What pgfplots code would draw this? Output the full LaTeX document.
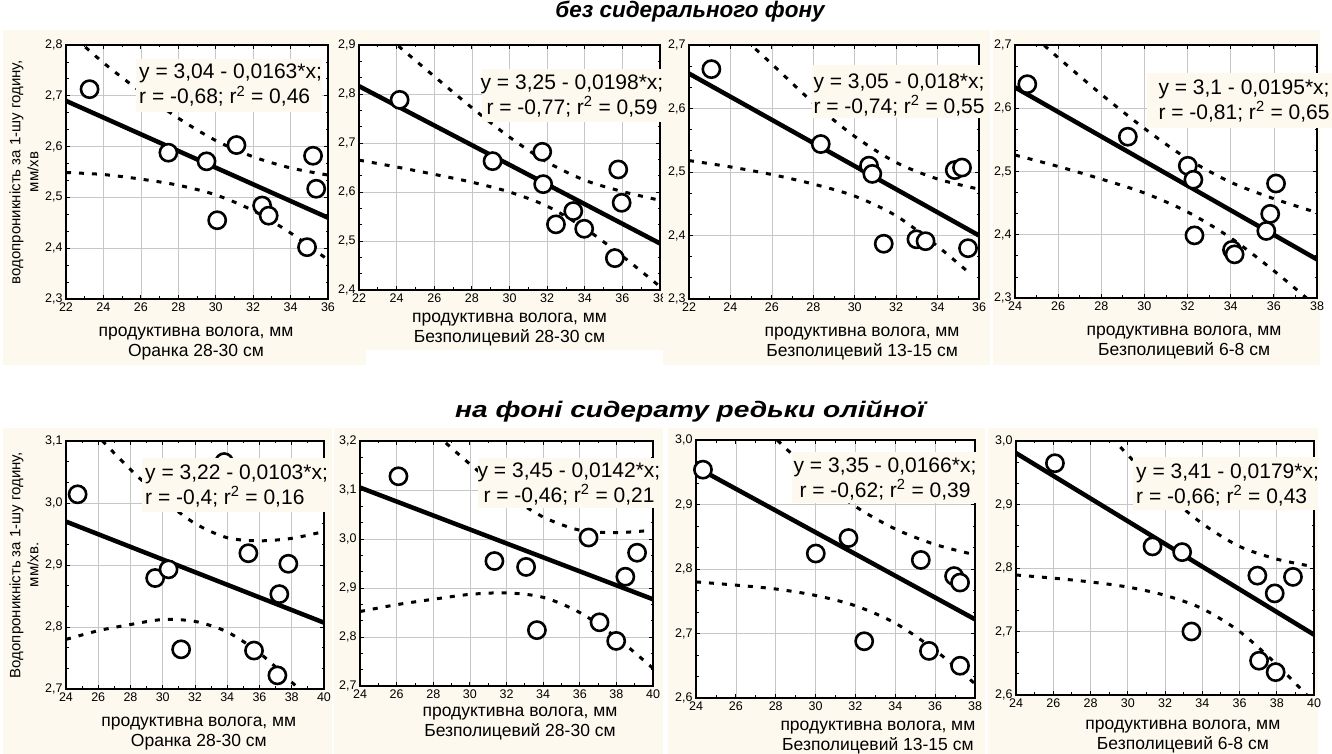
\documentclass[border=0pt]{standalone}
\usepackage{fontspec}
\setmainfont{Liberation Sans}
\usepackage{pgfplots}
\pgfplotsset{compat=1.18}
\definecolor{cream}{RGB}{253,249,238}
\pgfplotsset{
  panel/.style={
    scale only axis, anchor=south west,
    axis background/.style={fill=white},
    axis line style={line width=1.2pt},
    grid=major, major grid style={line width=0.6pt, color=black!22},
    tick align=inside, tick pos=both,
    major tick length=4pt, minor tick length=2.5pt,
    tick style={black, line width=0.8pt},
    minor x tick num=1, minor y tick num=2,
    ticklabel style={font=\fontsize{12.5}{14}\selectfont},
    /pgf/number format/assume math mode=true,
    yticklabel style={/pgf/number format/.cd, fixed, fixed zerofill, precision=1, use comma},
    xticklabel style={/pgf/number format/.cd, fixed, precision=0},
    xlabel style={font=\fontsize{17.5}{20}\selectfont, align=center, anchor=center},
    ylabel style={font=\fontsize{15}{18}\selectfont, align=center, anchor=center},
  },
  reg/.style={black, line width=4.5pt, no marks},
  band/.style={black, line width=3pt, dash pattern=on 5pt off 8pt, smooth, no marks},
  pts/.style={only marks, mark=*, mark size=8.6pt, mark options={fill=white, draw=black, line width=2.6pt}},
}
\begin{document}
\begin{tikzpicture}
\useasboundingbox (0,0) rectangle (1332pt,754pt);
% ---------- Panel 1 ----------
\begin{scope}[x=1pt,y=1pt]\fill[cream] (3,389) rectangle (336,724);\end{scope}
\begin{axis}[panel, at={(66pt,455pt)}, width=262pt, height=254pt,
  xmin=22, xmax=36, ymin=2.3, ymax=2.8,
  xtick={22,24,...,36}, ytick={2.3,2.4,2.5,2.6,2.7,2.8},
  xlabel={продуктивна волога, мм\\Оранка 28-30 см},
  xlabel style={at={(axis description cs:0.496,-0.175)}},
  ylabel={водопроникність за 1-шу годину,\\мм/хв},
  ylabel style={at={(axis description cs:-0.16,0.5)}}]
\addplot[reg] coordinates {(22,2.69)(36,2.46)};
\addplot[band] coordinates {(22,2.830)(24,2.765)(26,2.708)(28,2.656)(30,2.612)(32,2.580)(34,2.558)(36,2.544)};
\addplot[band] coordinates {(22,2.549)(24,2.545)(26,2.536)(28,2.524)(30,2.505)(32,2.474)(34,2.430)(36,2.377)};
\addplot[pts] coordinates {(23.26,2.713)(27.47,2.588)(29.51,2.571)(31.11,2.603)(30.08,2.455)(32.48,2.484)(32.83,2.464)(35.20,2.582)(35.37,2.517)(34.88,2.402)};
\end{axis}
% ---------- Panel 2 ----------
\begin{scope}[x=1pt,y=1pt]\fill[cream] (336,404) rectangle (663,724);\fill[cream] (336,389) rectangle (366,404);\end{scope}
\begin{axis}[panel, at={(359pt,464pt)}, width=301pt, height=245pt,
  xmin=22, xmax=38, ymin=2.4, ymax=2.9,
  xtick={22,24,...,38}, ytick={2.4,2.5,2.6,2.7,2.8,2.9},
  xlabel={продуктивна волога, мм\\Безполицевий 28-30 см},
  xlabel style={at={(axis description cs:0.5,-0.163)}}]
\addplot[reg] coordinates {(22,2.816)(38,2.495)};
\addplot[band] coordinates {(22,2.967)(24,2.901)(26,2.836)(28,2.772)(30,2.712)(32,2.661)(34,2.624)(36,2.601)(38,2.583)};
\addplot[band] coordinates {(22,2.665)(24,2.651)(26,2.636)(28,2.620)(30,2.600)(32,2.571)(34,2.526)(36,2.469)(38,2.407)};
\addplot[pts] coordinates {(24.16,2.788)(29.10,2.663)(31.74,2.682)(31.79,2.616)(32.47,2.534)(33.39,2.561)(33.97,2.525)(35.60,2.465)(35.78,2.646)(35.96,2.578)};
\end{axis}
% ---------- Panel 3 ----------
\begin{scope}[x=1pt,y=1pt]\fill[cream] (663,389) rectangle (990,724);\end{scope}
\begin{axis}[panel, at={(689pt,455pt)}, width=290pt, height=254pt,
  xmin=22, xmax=36, ymin=2.3, ymax=2.7,
  xtick={22,24,...,36}, ytick={2.3,2.4,2.5,2.6,2.7},
  xlabel={продуктивна волога, мм\\Безполицевий 13-15 см},
  xlabel style={at={(axis description cs:0.597,-0.177)}}]
\addplot[reg] coordinates {(22,2.655)(36,2.400)};
\addplot[band] coordinates {(22,2.792)(24,2.730)(26,2.670)(28,2.609)(30,2.556)(32,2.515)(34,2.489)(36,2.473)};
\addplot[band] coordinates {(22,2.518)(24,2.508)(26,2.496)(28,2.481)(30,2.462)(32,2.431)(34,2.383)(35.6,2.339)};
\addplot[pts] coordinates {(23.08,2.662)(28.36,2.544)(30.69,2.510)(30.85,2.497)(31.40,2.387)(32.98,2.394)(33.42,2.391)(34.83,2.503)(35.18,2.507)(35.47,2.380)};
\end{axis}
% ---------- Panel 4 ----------
\begin{scope}[x=1pt,y=1pt]\fill[cream] (993,389) rectangle (1320,724);\end{scope}
\begin{axis}[panel, at={(1015pt,456pt)}, width=302pt, height=253pt,
  xmin=24, xmax=38, ymin=2.3, ymax=2.7,
  xtick={24,26,...,38}, ytick={2.3,2.4,2.5,2.6,2.7},
  xlabel={продуктивна волога, мм\\Безполицевий 6-8 см},
  xlabel style={at={(axis description cs:0.56,-0.178)}}]
\addplot[reg] coordinates {(24,2.633)(38,2.361)};
\addplot[band] coordinates {(24,2.740)(26,2.680)(28,2.622)(30,2.568)(32,2.520)(34,2.483)(36,2.457)(38,2.435)};
\addplot[band] coordinates {(24,2.526)(26,2.508)(28,2.488)(30,2.466)(32,2.436)(34,2.395)(36,2.343)(38,2.286)};
\addplot[pts] coordinates {(24.57,2.638)(29.23,2.555)(32.01,2.509)(32.27,2.487)(32.32,2.399)(34.06,2.376)(34.18,2.369)(35.65,2.406)(35.83,2.433)(36.10,2.481)};
\end{axis}
% ---------- Panel 5 ----------
\begin{scope}[x=1pt,y=1pt]\fill[cream] (3,0) rectangle (332,326);\end{scope}
\begin{axis}[panel, at={(66pt,65pt)}, width=258pt, height=248pt,
  xmin=24, xmax=40, ymin=2.7, ymax=3.1,
  xtick={24,26,...,40}, ytick={2.7,2.8,2.9,3.0,3.1},
  xlabel={продуктивна волога, мм\\Оранка 28-30 см},
  xlabel style={at={(axis description cs:0.515,-0.179)}},
  ylabel={Водопроникність за 1-шу годину,\\мм/хв.},
  ylabel style={at={(axis description cs:-0.163,0.5)}}]
\addplot[reg] coordinates {(24,2.970)(40,2.807)};
\addplot[band] coordinates {(24,3.161)(26,3.107)(28,3.054)(30,3.006)(32,2.967)(34,2.944)(36,2.939)(38,2.943)(40,2.954)};
\addplot[band] coordinates {(24,2.780)(26,2.794)(28,2.804)(30,2.812)(32,2.809)(34,2.792)(36,2.758)(38,2.711)(40,2.660)};
\addplot[pts] coordinates {(24.72,3.014)(29.53,2.879)(30.36,2.893)(31.14,2.764)(33.81,3.066)(35.31,2.919)(35.66,2.762)(37.23,2.853)(37.11,2.722)(37.79,2.902)};
\end{axis}
% ---------- Panel 6 ----------
\begin{scope}[x=1pt,y=1pt]\fill[cream] (334,0) rectangle (663,326);\end{scope}
\begin{axis}[panel, at={(360pt,68pt)}, width=293pt, height=245pt,
  xmin=24, xmax=40, ymin=2.7, ymax=3.2,
  xtick={24,26,...,40}, ytick={2.7,2.8,2.9,3.0,3.1,3.2},
  xlabel={продуктивна волога, мм\\Безполицевий 28-30 см},
  xlabel style={at={(axis description cs:0.546,-0.155)}}]
\addplot[reg] coordinates {(24,3.105)(40,2.877)};
\addplot[band] coordinates {(24,3.358)(26,3.288)(28,3.219)(30,3.153)(32,3.092)(34,3.045)(36,3.018)(38,3.013)(40,3.018)};
\addplot[band] coordinates {(24,2.852)(26,2.866)(28,2.877)(30,2.887)(32,2.890)(34,2.881)(36,2.850)(38,2.799)(40,2.736)};
\addplot[pts] coordinates {(26.10,3.128)(31.34,2.955)(33.07,2.943)(33.66,2.814)(36.48,3.003)(37.08,2.830)(37.99,2.792)(38.49,2.923)(39.13,2.972)};
\end{axis}
% ---------- Panel 7 ----------
\begin{scope}[x=1pt,y=1pt]\fill[cream] (668,0) rectangle (985,326);\end{scope}
\begin{axis}[panel, at={(696pt,56pt)}, width=279pt, height=258pt,
  xmin=24, xmax=38, ymin=2.6, ymax=3.0,
  xtick={24,26,...,38}, ytick={2.6,2.7,2.8,2.9,3.0},
  xlabel={продуктивна волога, мм\\Безполицевий 13-15 см},
  xlabel style={at={(axis description cs:0.652,-0.153)}}]
\addplot[reg] coordinates {(24,2.958)(38,2.722)};
\addplot[band] coordinates {(24,3.130)(26,3.064)(28,3.002)(30,2.945)(32,2.897)(34,2.862)(36,2.838)(38,2.822)};
\addplot[band] coordinates {(24,2.780)(26,2.775)(28,2.769)(30,2.759)(32,2.743)(34,2.716)(36,2.674)(38,2.622)};
\addplot[pts] coordinates {(24.35,2.954)(30.01,2.824)(31.65,2.848)(32.44,2.688)(35.28,2.814)(35.69,2.673)(36.95,2.789)(37.25,2.779)(37.25,2.650)};
\end{axis}
% ---------- Panel 8 ----------
\begin{scope}[x=1pt,y=1pt]\fill[cream] (988,0) rectangle (1318,326);\end{scope}
\begin{axis}[panel, at={(1016pt,59pt)}, width=298pt, height=254pt,
  xmin=24, xmax=40, ymin=2.6, ymax=3.0,
  xtick={24,26,...,40}, ytick={2.6,2.7,2.8,2.9,3.0},
  xlabel={продуктивна волога, мм\\Безполицевий 6-8 см},
  xlabel style={at={(axis description cs:0.56,-0.165)}}]
\addplot[reg] coordinates {(24,2.981)(40,2.695)};
\addplot[band] coordinates {(24,3.173)(26,3.106)(28,3.042)(30,2.978)(32,2.919)(34,2.870)(36,2.834)(38,2.814)(40,2.802)};
\addplot[band] coordinates {(24,2.789)(26,2.784)(28,2.778)(30,2.770)(32,2.757)(34,2.736)(36,2.700)(38,2.648)(40,2.588)};
\addplot[pts] coordinates {(26.09,2.965)(31.33,2.834)(32.92,2.825)(33.42,2.700)(36.96,2.788)(37.05,2.654)(37.89,2.760)(37.94,2.636)(38.87,2.786)};
\end{axis}
% ---------- Titles and equation boxes ----------
\begin{scope}[x=1pt,y=1pt]
\node[font=\fontsize{22.5}{26}\selectfont\bfseries\itshape] at (690,742) {без сидерального фону};
\node[font=\fontsize{22.5}{26}\selectfont\bfseries\itshape, xscale=1.25, transform shape] at (690,343) {на фоні сидерату редьки олійної};
\tikzset{eq/.style={font=\fontsize{21}{25}\selectfont, inner sep=0pt}}
\fill[cream] (136,642) rectangle (322,695);
\node[eq, anchor=west, align=left] at (139,668.5) {y = 3,04 - 0,0163*x;\\r = -0,68; r\textsuperscript{2} = 0,46};
\fill[cream] (482,632) rectangle (663,685);
\node[eq, align=center] at (572,658) {y = 3,25 - 0,0198*x;\\r = -0,77; r\textsuperscript{2} = 0,59};
\fill[cream] (812,636) rectangle (988,689);
\node[eq, align=center] at (899,659) {y = 3,05 - 0,018*x;\\r = -0,74; r\textsuperscript{2} = 0,55};
\fill[cream] (1147,626) rectangle (1340,681);
\node[eq, align=center] at (1244,653) {y = 3,1 - 0,0195*x;\\r = -0,81; r\textsuperscript{2} = 0,65};
\fill[cream] (142,242) rectangle (325,296);
\node[eq, anchor=west, align=left] at (145,268) {y = 3,22 - 0,0103*x;\\r = -0,4; r\textsuperscript{2} = 0,16};
\fill[cream] (478,246) rectangle (660,296);
\node[eq, align=center] at (569,270) {y = 3,45 - 0,0142*x;\\r = -0,46; r\textsuperscript{2} = 0,21};
\fill[cream] (792,251) rectangle (980,302);
\node[eq, align=center] at (885,275) {y = 3,35 - 0,0166*x;\\r = -0,62; r\textsuperscript{2} = 0,39};
\fill[cream] (1133,244) rectangle (1315,297);
\node[eq, anchor=west, align=left] at (1136,269) {y = 3,41 - 0,0179*x;\\r = -0,66; r\textsuperscript{2} = 0,43};
\end{scope}
\end{tikzpicture}
\end{document}
